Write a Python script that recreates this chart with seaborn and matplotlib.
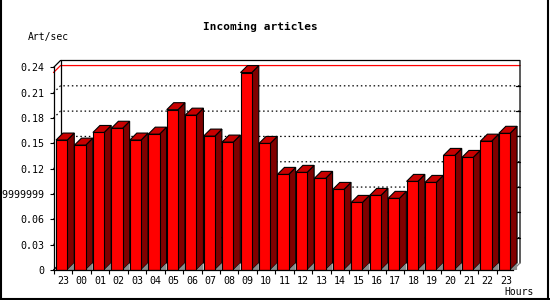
import numpy as np
import pandas as pd
import matplotlib
matplotlib.use("Agg")
import matplotlib.pyplot as plt
import seaborn as sns
from matplotlib.patches import Polygon
from matplotlib.lines import Line2D

# ---- data ----
hours = ["23", "00", "01", "02", "03", "04", "05", "06", "07", "08", "09", "10",
         "11", "12", "13", "14", "15", "16", "17", "18", "19", "20", "21", "22", "23"]
rate = [0.154, 0.148, 0.163, 0.168, 0.154, 0.161, 0.190, 0.1835, 0.1587, 0.1516,
        0.234, 0.150, 0.1133, 0.1157, 0.1086, 0.0955, 0.0801, 0.0884, 0.0849,
        0.105, 0.1038, 0.1358, 0.1334, 0.1527, 0.162]
y_ticks = [0, 0.03, 0.06, 0.09, 0.12, 0.15, 0.18, 0.21, 0.24]
y_tick_labels = ["0", "0.03", "0.06", "0.0899999999", "0.12", "0.15", "0.18", "0.21", "0.24"]
title = "Incoming articles"
y_title = "Art/sec"
x_title = "Hours"

sns.set_theme(style="white")
plt.rcParams["font.family"] = ["DejaVu Sans Mono", "DejaVu Sans"]

W, H = 550, 300
fig = plt.figure(figsize=(5.5, 3), dpi=100)
fig.patch.set_facecolor("white")

ax_left, ax_right, ax_bottom, ax_top = 53.5, 513.0, 30.0, 232.5
ax = fig.add_axes([ax_left / W, ax_bottom / H, (ax_right - ax_left) / W, (ax_top - ax_bottom) / H])
ax.set_facecolor("none")

df = pd.DataFrame({"slot": np.arange(len(hours)), "rate": rate})
sns.barplot(data=df, x="slot", y="rate", color="#ff0000", saturation=1, width=0.61,
            edgecolor="black", linewidth=0.8, ax=ax, zorder=5)

L, R = -0.442, 24.463
ymax = 0.24
ax.set_xlim(L, R)
ax.set_ylim(0, ymax)

px_x = (R - L) / (ax_right - ax_left)
px_y = ymax / (ax_top - ax_bottom)
depth = 7
dx, dy = depth * px_x, depth * px_y

# back panel frame
frame_kw = dict(color="black", lw=0.9, clip_on=False, zorder=2)
ax.plot([L, L + dx, R + dx, R + dx], [ymax, ymax + dy, ymax + dy, dy], **frame_kw)
ax.plot([L + dx, L + dx], [dy, ymax + dy], **frame_kw)
ax.plot([R, R + dx], [0, dy], color="#808080", lw=0.9, clip_on=False, zorder=2)
ax.plot([L, L + dx], [0, dy], color="black", lw=0.9, clip_on=False, zorder=2)

# dotted grid on back panel
for v in y_ticks[1:-1]:
    ax.plot([L, L + dx, R + dx], [v, v + dy, v + dy], color="black", lw=0.9,
            ls=(0, (1.2, 2.2)), clip_on=False, zorder=1)
    ax.plot([R + dx - 4 * px_x, R + dx], [v + dy, v + dy], color="black", lw=0.9,
            clip_on=False, zorder=1)

# max line
mx = max(rate)
ax.plot([L, L + dx, R + dx], [mx, mx + dy, mx + dy], color="#ff0000", lw=0.9,
        clip_on=False, zorder=1.5)

# 3D faces
for p in list(ax.patches):
    x0 = p.get_x()
    x1 = x0 + p.get_width()
    h = p.get_height()
    side = Polygon([(x1, 0), (x1 + dx, dy), (x1 + dx, h + dy), (x1, h)], closed=True,
                   facecolor="#800000", edgecolor="black", lw=0.8, clip_on=False, zorder=4)
    top = Polygon([(x0, h), (x1, h), (x1 + dx, h + dy), (x0 + dx, h + dy)], closed=True,
                  facecolor="#c80000", edgecolor="black", lw=0.8, clip_on=False, zorder=4)
    tri = Polygon([(x1, 0), (x1 + dx, dy), (x1 + dx, 0)], closed=True,
                  facecolor="#8c8c8c", edgecolor="none", clip_on=False, zorder=4.5)
    ax.add_patch(side)
    ax.add_patch(top)
    ax.add_patch(tri)

# axes styling
sns.despine(ax=ax, top=True, right=True)
for s in ["left", "bottom"]:
    ax.spines[s].set_color("black")
    ax.spines[s].set_linewidth(0.9)
    ax.spines[s].set_zorder(6)

ax.set_yticks(y_ticks, y_tick_labels)
ax.tick_params(axis="y", direction="out", length=3, width=0.8, pad=3.5,
               labelsize=7.2, colors="black", left=True)
ax.set_xticks(np.arange(len(hours)) + 0.08, hours)
ax.tick_params(axis="x", which="major", length=0, pad=4, labelsize=7.2, colors="black")
ax.set_xticks(np.arange(len(hours)) - 0.42, minor=True)
ax.tick_params(axis="x", which="minor", direction="out", length=3, width=0.8,
               colors="black", bottom=True)
ax.set_xlabel("")
ax.set_ylabel("")

fig.text(260 / W, 1 - 27 / H, title, ha="center", va="center", fontsize=8,
         fontweight="bold", color="black")
fig.text(28 / W, 1 - 37 / H, y_title, ha="left", va="center", fontsize=7, color="black")
fig.text(534 / W, 1 - 292 / H, x_title, ha="right", va="center", fontsize=7, color="black")

# image border (left, right, bottom)
border_kw = dict(transform=fig.transFigure, color="black", lw=1.5)
fig.lines.append(Line2D([0.001, 0.001], [0, 1], **border_kw))
fig.lines.append(Line2D([0.997, 0.997], [0, 1], **border_kw))
fig.lines.append(Line2D([0, 1], [0.002, 0.002], **border_kw))

fig.savefig("out.png", dpi=100)
